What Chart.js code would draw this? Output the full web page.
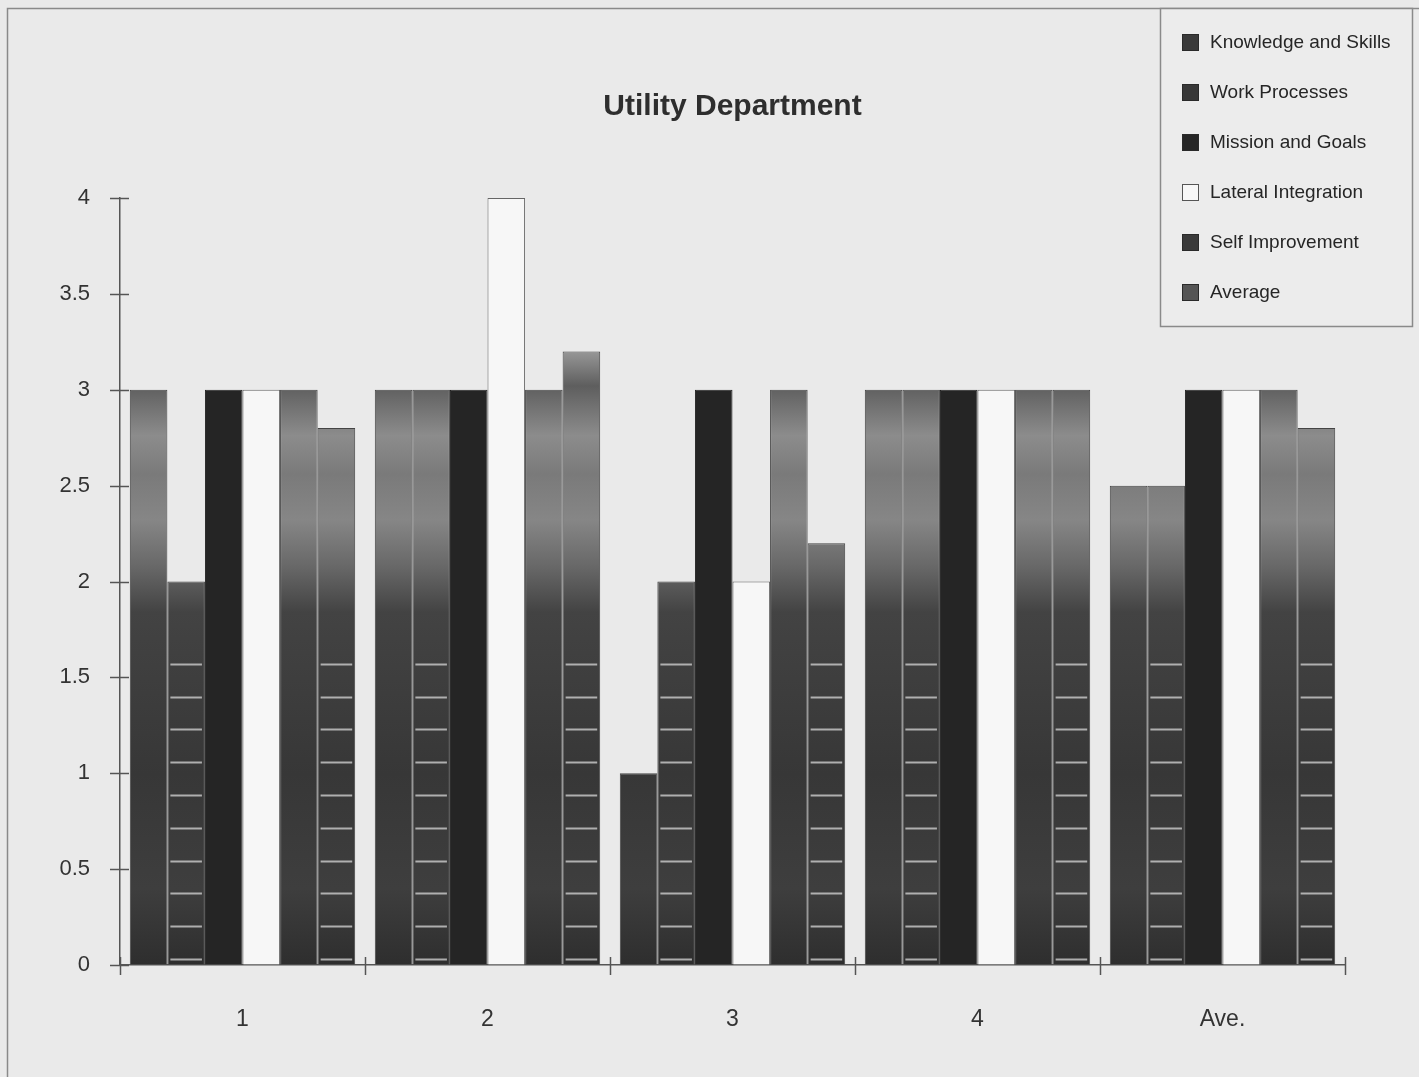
<!DOCTYPE html>
<html>
<head>
<meta charset="utf-8">
<title>Utility Department</title>
<script src="https://cdn.jsdelivr.net/npm/chart.js@4/dist/chart.umd.min.js"></script>
<style>
  html, body { margin: 0; padding: 0; background: #eaeaea; }
  #wrap { position: relative; width: 1419px; height: 1077px; }
  canvas { display: block; }
</style>
</head>
<body>
<div id="wrap"><canvas id="chart" width="1419" height="1077"></canvas></div>
<script>
// Survey groups along the x axis
const categories = ['1', '2', '3', '4', 'Ave.'];

// Scores per attribute, one value per group
const knowledgeAndSkills = [3, 3, 1, 3, 2.5];
const workProcesses      = [2, 3, 2, 3, 2.5];
const missionAndGoals    = [3, 3, 3, 3, 3];
const lateralIntegration = [3, 4, 2, 3, 3];
const selfImprovement    = [3, 3, 3, 3, 3];
const averageScore       = [2.8, 3.2, 2.2, 3, 2.8];

const seriesNames = ['Knowledge and Skills', 'Work Processes', 'Mission and Goals',
                     'Lateral Integration', 'Self Improvement', 'Average'];

// y axis range and tick step
const yMin = 0, yMax = 4, yStep = 0.5;

const chartTitle = 'Utility Department';

// Shaded grey fill shared by the textured bars, laid over the plot height
function shadedFill(context) {
  const chart = context.chart;
  const area = chart.chartArea;
  if (!area) return '#555';
  const g = chart.ctx.createLinearGradient(0, area.top, 0, area.bottom);
  g.addColorStop(0.00, '#a0a0a0');
  g.addColorStop(0.20, '#979797');
  g.addColorStop(0.245, '#5e5e5e');
  g.addColorStop(0.27, '#707070');
  g.addColorStop(0.31, '#8c8c8c');
  g.addColorStop(0.36, '#7a7a7a');
  g.addColorStop(0.42, '#868686');
  g.addColorStop(0.48, '#686868');
  g.addColorStop(0.54, '#434343');
  g.addColorStop(0.75, '#373737');
  g.addColorStop(0.90, '#3e3e3e');
  g.addColorStop(1.00, '#2e2e2e');
  return g;
}

const datasets = [
  { label: seriesNames[0], data: knowledgeAndSkills, backgroundColor: shadedFill, borderColor: '#444', dashes: false },
  { label: seriesNames[1], data: workProcesses, backgroundColor: shadedFill, borderColor: '#444', dashes: true },
  { label: seriesNames[2], data: missionAndGoals, backgroundColor: '#252525', borderColor: '#222', dashes: false },
  { label: seriesNames[3], data: lateralIntegration, backgroundColor: '#f7f7f7', borderColor: '#666', dashes: false },
  { label: seriesNames[4], data: selfImprovement, backgroundColor: shadedFill, borderColor: '#444', dashes: false },
  { label: seriesNames[5], data: averageScore, backgroundColor: shadedFill, borderColor: '#444', dashes: true }
].map(d => Object.assign({ borderWidth: 1, borderSkipped: 'bottom' }, d));

const legendSwatch = ['#3a3a3a', '#383838', '#262626', '#f7f7f7', '#3a3a3a', '#555555'];

const FONT = '"Liberation Sans", Arial, sans-serif';

// Frame, title and legend panel
const decorations = {
  id: 'decorations',
  beforeDraw(chart) {
    const ctx = chart.ctx;
    ctx.save();
    ctx.fillStyle = '#eaeaea';
    ctx.fillRect(0, 0, chart.width, chart.height);
    // outer frame
    ctx.strokeStyle = '#8a8a8a';
    ctx.lineWidth = 1.5;
    ctx.beginPath();
    ctx.moveTo(7.5, chart.height);
    ctx.lineTo(7.5, 8.5);
    ctx.lineTo(chart.width, 8.5);
    ctx.stroke();
    ctx.restore();
  },
  afterDraw(chart) {
    const ctx = chart.ctx;
    const area = chart.chartArea;
    ctx.save();
    // title centred over the plot
    ctx.fillStyle = '#2e2e2e';
    ctx.font = 'bold 30px ' + FONT;
    ctx.textAlign = 'center';
    ctx.textBaseline = 'middle';
    ctx.fillText(chartTitle, (area.left + area.right) / 2, 107);

    // legend panel
    const bx = 1160.5, by = 8.5, bw = 252, bh = 318;
    ctx.fillStyle = '#ececec';
    ctx.fillRect(bx, by, bw, bh);
    ctx.strokeStyle = '#8a8a8a';
    ctx.lineWidth = 1.5;
    ctx.strokeRect(bx, by, bw, bh);
    ctx.font = '19px ' + FONT;
    ctx.textAlign = 'left';
    ctx.textBaseline = 'middle';
    chart.data.datasets.forEach((ds, i) => {
      const cy = 42 + i * 50;
      ctx.fillStyle = legendSwatch[i];
      ctx.fillRect(1182, cy - 8, 17, 17);
      ctx.strokeStyle = i === 3 ? '#555' : '#2a2a2a';
      ctx.lineWidth = 1;
      ctx.strokeRect(1182.5, cy - 7.5, 16, 16);
      ctx.fillStyle = '#262626';
      ctx.fillText(ds.label, 1210, cy + 1);
    });
    ctx.restore();
  }
};

// White dash texture on the lower part of the hatched series
const dashTexture = {
  id: 'dashTexture',
  afterDatasetsDraw(chart) {
    const ctx = chart.ctx;
    const yScale = chart.scales.y;
    const base = yScale.getPixelForValue(0);
    const limit = yScale.getPixelForValue(1.6);
    const step = 32.8;
    ctx.save();
    ctx.strokeStyle = 'rgba(205,205,205,0.8)';
    ctx.lineWidth = 2;
    chart.data.datasets.forEach((ds, i) => {
      if (!ds.dashes) return;
      const meta = chart.getDatasetMeta(i);
      meta.data.forEach(bar => {
        const p = bar.getProps(['x', 'y', 'width'], true);
        const left = p.x - p.width / 2 + 3;
        const right = p.x + p.width / 2 - 3;
        for (let y = base - 6; y >= limit - 2 && y > p.y + 4; y -= step) {
          ctx.beginPath();
          ctx.moveTo(left, Math.round(y) + 0.5);
          ctx.lineTo(right, Math.round(y) + 0.5);
          ctx.stroke();
        }
      });
    });
    ctx.restore();
  }
};

// Tick marks that cross both axis lines
const crossTicks = {
  id: 'crossTicks',
  afterDraw(chart) {
    const ctx = chart.ctx;
    const x = chart.scales.x, y = chart.scales.y;
    const area = chart.chartArea;
    ctx.save();
    ctx.strokeStyle = '#555';
    ctx.lineWidth = 1.5;
    y.ticks.forEach(t => {
      const py = Math.round(y.getPixelForValue(t.value)) + 0.5;
      ctx.beginPath();
      ctx.moveTo(area.left - 10, py);
      ctx.lineTo(area.left + 9, py);
      ctx.stroke();
    });
    const n = chart.data.labels.length;
    const cw = (area.right - area.left) / n;
    for (let i = 0; i <= n; i++) {
      const px = Math.round(x.getPixelForValue(0) - cw / 2 + i * cw) + 0.5;
      ctx.beginPath();
      ctx.moveTo(px, area.bottom - 8);
      ctx.lineTo(px, area.bottom + 10);
      ctx.stroke();
    }
    ctx.restore();
  }
};

new Chart(document.getElementById('chart'), {
  type: 'bar',
  data: { labels: categories, datasets },
  plugins: [decorations, dashTexture, crossTicks],
  options: {
    responsive: false,
    animation: false,
    layout: { padding: { left: 0, right: 74, top: 198, bottom: 0 } },
    datasets: { bar: { categoryPercentage: 0.92, barPercentage: 1.0 } },
    plugins: {
      legend: { display: false },
      title: { display: false },
      tooltip: { enabled: false }
    },
    scales: {
      x: {
        afterFit(scale) { scale.height = 112; },
        grid: { display: true, drawOnChartArea: false, drawTicks: true, tickLength: 10, color: 'rgba(0,0,0,0)' },
        border: { display: true, color: '#555', width: 1.5 },
        ticks: { padding: 31, color: '#333', font: { family: FONT, size: 23 } }
      },
      y: {
        min: yMin,
        max: yMax,
        afterFit(scale) { scale.width = 120; },
        grid: { display: true, drawOnChartArea: false, drawTicks: true, tickLength: 10, color: 'rgba(0,0,0,0)' },
        border: { display: true, color: '#555', width: 1.5 },
        ticks: {
          stepSize: yStep,
          padding: 20,
          color: '#333',
          font: { family: FONT, size: 22 },
          callback: v => String(v)
        }
      }
    }
  }
});
</script>
</body>
</html>
